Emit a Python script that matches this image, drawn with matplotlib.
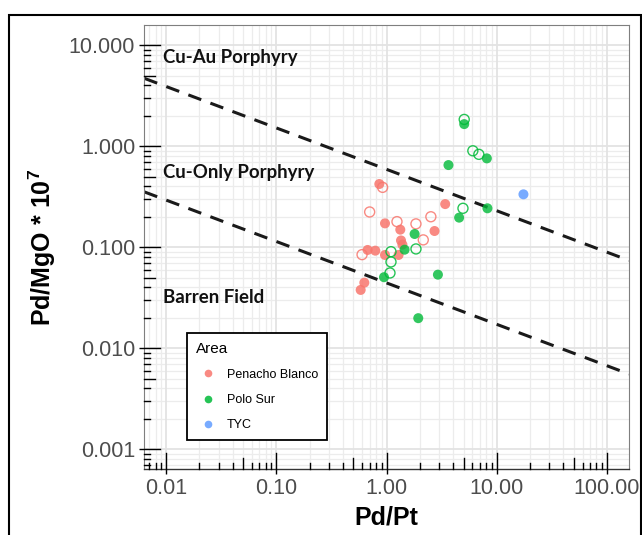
import numpy as np
import matplotlib
matplotlib.use("Agg")
import matplotlib.pyplot as plt
from matplotlib.lines import Line2D
from matplotlib.patches import Rectangle
from matplotlib.transforms import blended_transform_factory

plt.rcParams['font.family'] = ['Liberation Sans', 'DejaVu Sans']
plt.rcParams['mathtext.fontset'] = 'custom'
plt.rcParams['mathtext.rm'] = 'Liberation Sans'
plt.rcParams['mathtext.bf'] = 'Liberation Sans:bold'

# ---------------- data ----------------
areas = ["Penacho Blanco", "Polo Sur", "TYC"]
area_colors = ["#F8766D", "#00BA38", "#619CFF"]

# Penacho Blanco (filled / hollow)
pb_fill_x = [0.858, 3.40, 0.966, 1.33, 2.72, 1.35, 1.39, 0.672, 0.789, 0.966, 1.283, 0.627, 0.581]
pb_fill_y = [0.422, 0.267, 0.172, 0.149, 0.1445, 0.1165, 0.106, 0.0938, 0.0923, 0.0837, 0.0837, 0.0445, 0.0377]
pb_open_x = [0.919, 0.701, 1.241, 1.845, 2.52, 2.15, 0.598]
pb_open_y = [0.391, 0.223, 0.179, 0.170, 0.200, 0.118, 0.0843]

# Polo Sur (filled / hollow)
ps_fill_x = [5.06, 3.64, 8.12, 8.22, 4.55, 1.794, 1.455, 0.946, 2.92, 1.936]
ps_fill_y = [1.654, 0.650, 0.757, 0.2425, 0.196, 0.135, 0.0944, 0.0504, 0.0534, 0.0198]
ps_open_x = [5.06, 6.06, 6.87, 4.93, 1.846, 1.095, 1.095, 1.072]
ps_open_y = [1.84, 0.90, 0.83, 0.2425, 0.096, 0.0902, 0.0714, 0.0555]

# TYC
tyc_fill_x = [17.45]
tyc_fill_y = [0.3335]

# discrimination lines: y = a * x^b
line_a = [0.589, 0.0442]
line_b = [-0.41, -0.41]

field_labels = ["Cu-Au Porphyry", "Cu-Only Porphyry", "Barren Field"]
field_x = [0.0093, 0.0093, 0.0093]
field_y = [7.6, 0.545, 0.0315]

x_ticks = [0.01, 0.1, 1, 10, 100]
x_ticklabels = ["0.01", "0.10", "1.00", "10.00", "100.00"]
y_ticks = [0.001, 0.01, 0.1, 1, 10]
y_ticklabels = ["0.001", "0.010", "0.100", "1.000", "10.000"]

# ---------------- figure ----------------
W, H = 642, 535
fig = plt.figure(figsize=(W / 100, H / 100), dpi=100)
L, R, T, B = 144.3, 629.0, 25.0, 469.3
ax = fig.add_axes([L / W, 1 - B / H, (R - L) / W, (B - T) / H])
ax.set_xscale('log')
ax.set_yscale('log')
xlim = (10 ** -2.2, 10 ** 2.2)
ylim = (10 ** -3.2, 10 ** 1.2)
ax.set_xlim(*xlim)
ax.set_ylim(*ylim)

# grid
minor_vals = [m * 10.0 ** e for e in range(-4, 3) for m in range(2, 10)]
for v in minor_vals:
    if xlim[0] < v < xlim[1]:
        ax.axvline(v, color="#ECECEC", lw=0.9, zorder=0)
    if ylim[0] < v < ylim[1]:
        ax.axhline(v, color="#ECECEC", lw=0.9, zorder=0)
for v in [10.0 ** e for e in range(-4, 3)]:
    if xlim[0] < v < xlim[1]:
        ax.axvline(v, color="#E3E3E3", lw=1.3, zorder=0)
    if ylim[0] < v < ylim[1]:
        ax.axhline(v, color="#E3E3E3", lw=1.3, zorder=0)

# log ticks inside the panel
tb = blended_transform_factory(ax.transData, ax.transAxes)
tl = blended_transform_factory(ax.transAxes, ax.transData)
ph, pw = B - T, R - L
for e in range(-4, 3):
    for m in range(1, 10):
        v = m * 10.0 ** e
        ln = 16 if m == 1 else (11 if m == 5 else 6)
        if xlim[0] < v < xlim[1]:
            ax.plot([v, v], [0, ln / ph], transform=tb, color="black", lw=1.0, zorder=3, clip_on=False)
        if ylim[0] < v < ylim[1]:
            ax.plot([0, ln / pw], [v, v], transform=tl, color="black", lw=1.0, zorder=3, clip_on=False)

# lines
xs = np.array(xlim)
for a, b in zip(line_a, line_b):
    ax.plot(xs, a * xs ** b, color="#1a1a1a", lw=2.2, dashes=(4.5, 3.2), zorder=2)

# points
ms = 52
ax.scatter(pb_fill_x, pb_fill_y, s=ms, color=area_colors[0], alpha=0.85, edgecolors='none', zorder=4)
ax.scatter(pb_open_x, pb_open_y, s=ms, facecolors='none', edgecolors=area_colors[0], linewidths=1.0, alpha=0.85, zorder=4)
ax.scatter(ps_fill_x, ps_fill_y, s=ms, color=area_colors[1], alpha=0.8, edgecolors='none', zorder=4)
ax.scatter(ps_open_x, ps_open_y, s=ms, facecolors='none', edgecolors=area_colors[1], linewidths=1.0, alpha=0.85, zorder=4)
ax.scatter(tyc_fill_x, tyc_fill_y, s=ms, color=area_colors[2], alpha=0.85, edgecolors='none', zorder=4)

# field labels
for t, x, y in zip(field_labels, field_x, field_y):
    ax.text(x, y, t, ha='left', va='center', fontsize=13.4, fontweight='bold',
            family=['Lato', 'DejaVu Sans'], color='#111111', zorder=5)

# axes styling
ax.set_xticks(x_ticks)
ax.set_xticklabels(x_ticklabels)
ax.set_yticks(y_ticks)
ax.set_yticklabels(y_ticklabels)
ax.xaxis.set_minor_locator(matplotlib.ticker.NullLocator())
ax.yaxis.set_minor_locator(matplotlib.ticker.NullLocator())
ax.tick_params(axis='both', which='major', length=3.6, width=1.0, color='black',
               labelsize=15.5, labelcolor='#4D4D4D', pad=3)
for s in ['left', 'right', 'top']:
    ax.spines[s].set_color('#7F7F7F')
    ax.spines[s].set_linewidth(0.8)
ax.spines['bottom'].set_color('#333333')
ax.spines['bottom'].set_linewidth(1.0)

ax.set_xlabel("Pd/Pt", fontsize=18, fontweight='bold', labelpad=4)
ax.set_ylabel(r"Pd/MgO * 10$^{\mathbf{7}}$", fontsize=18, fontweight='bold', labelpad=8)

# legend
handles = [Line2D([], [], marker='o', ls='none', markersize=5.5, markerfacecolor=c,
                  markeredgecolor='none', alpha=0.85) for c in area_colors]
leg = ax.legend(handles, areas, title="Area", loc='upper left',
                bbox_to_anchor=(186.7 / W, 1 - 332.7 / H), bbox_transform=fig.transFigure,
                borderaxespad=0, fontsize=9, title_fontsize=11, frameon=True, fancybox=False,
                edgecolor='black', framealpha=1, borderpad=0.72, labelspacing=1.05,
                handlelength=1.9, handletextpad=0.6, alignment='left')
leg.get_frame().set_linewidth(1.3)
leg.set_zorder(6)

# outer frame
fig.add_artist(Rectangle((9 / W, -0.05), (641 - 9) / W, 1.05 - 15.5 / H,
                         transform=fig.transFigure, fill=False, edgecolor='black', lw=1.5))

fig.savefig("out.png", dpi=100)
